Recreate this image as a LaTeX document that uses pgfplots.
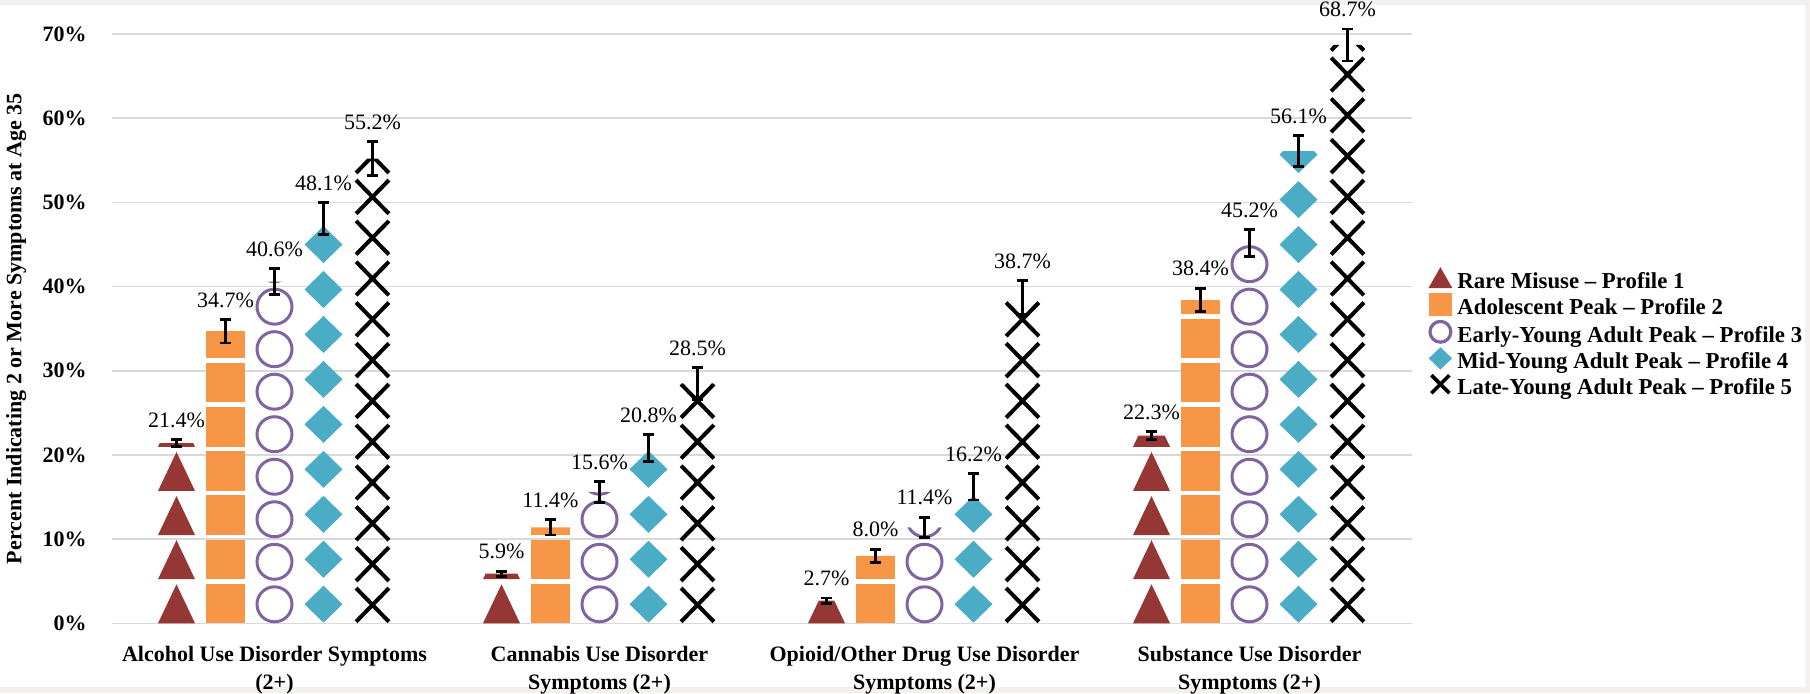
\documentclass[border=0pt]{standalone}
\usepackage{fontspec}
\setmainfont{Liberation Serif}
\usepackage{pgfplots}
\usepackage{pgfplotstable}
\pgfplotsset{compat=1.18}

\definecolor{cTri}{HTML}{953735}
\definecolor{cSq}{HTML}{F79646}
\definecolor{cCir}{HTML}{8064A2}
\definecolor{cDia}{HTML}{4BACC6}
\definecolor{cGrid}{HTML}{D9D9D9}
\definecolor{cFrame}{HTML}{F3F1EF}

% x = category, y = percent, err = half-width of the error bar
\pgfplotstableread{
x y err
0 21.4 0.4
1 5.9 0.3
2 2.7 0.3
3 22.3 0.5
}\rare
\pgfplotstableread{
x y err
0 34.7 1.4
1 11.4 0.9
2 8.0 0.8
3 38.4 1.4
}\adol
\pgfplotstableread{
x y err
0 40.6 1.5
1 15.6 1.25
2 11.4 1.2
3 45.2 1.6
}\early
\pgfplotstableread{
x y err
0 48.1 1.9
1 20.8 1.6
2 16.2 1.55
3 56.1 1.85
}\mid
\pgfplotstableread{
x y err
0 55.2 2.0
1 28.5 1.9
2 38.7 2.0
3 68.7 1.9
}\late

% pictogram icons, origin = bottom centre of one icon cell
\newcommand\iconTri{%
  \pgfpathmoveto{\pgfpoint{-9.25pt}{0pt}}%
  \pgfpathlineto{\pgfpoint{9.25pt}{0pt}}%
  \pgfpathlineto{\pgfpoint{0pt}{19.5pt}}%
  \pgfpathclose
  \pgfsetfillcolor{cTri}\pgfusepath{fill}}
\newcommand\iconSq{%
  \pgfpathrectangle{\pgfpoint{-9.7pt}{0pt}}{\pgfpoint{19.4pt}{19.8pt}}%
  \pgfsetfillcolor{cSq}\pgfusepath{fill}}
\newcommand\iconCir{%
  \pgfpathcircle{\pgfpoint{0pt}{9.5pt}}{8.75pt}%
  \pgfsetlinewidth{1.5pt}\pgfsetstrokecolor{cCir}\pgfusepath{stroke}}
\newcommand\iconDia{%
  \pgfpathmoveto{\pgfpoint{0pt}{0.3pt}}%
  \pgfpathlineto{\pgfpoint{9.5pt}{9.55pt}}%
  \pgfpathlineto{\pgfpoint{0pt}{18.8pt}}%
  \pgfpathlineto{\pgfpoint{-9.5pt}{9.55pt}}%
  \pgfpathclose
  \pgfsetfillcolor{cDia}\pgfusepath{fill}}
\newcommand\iconX{%
  \pgfpathmoveto{\pgfpoint{-8.2pt}{0.8pt}}%
  \pgfpathlineto{\pgfpoint{8.2pt}{17.6pt}}%
  \pgfpathmoveto{\pgfpoint{-8.2pt}{17.6pt}}%
  \pgfpathlineto{\pgfpoint{8.2pt}{0.8pt}}%
  \pgfsetlinewidth{2pt}\pgfsetstrokecolor{black}\pgfusepath{stroke}}

% legend icons (the discarded point keeps a gap before the text)
\newcommand\legGap{\pgfpathmoveto{\pgfpoint{14.5pt}{3pt}}\pgfusepath{discard}}
\newcommand\legTri{%
  \pgfpathmoveto{\pgfpoint{0pt}{-1.5pt}}\pgfpathlineto{\pgfpoint{12pt}{-1.5pt}}%
  \pgfpathlineto{\pgfpoint{6pt}{9pt}}\pgfpathclose
  \pgfsetfillcolor{cTri}\pgfusepath{fill}\legGap}
\newcommand\legSq{%
  \pgfpathrectangle{\pgfpoint{0.2pt}{-2pt}}{\pgfpoint{11.6pt}{11.5pt}}%
  \pgfsetfillcolor{cSq}\pgfusepath{fill}\legGap}
\newcommand\legCir{%
  \pgfpathcircle{\pgfpoint{6pt}{3.8pt}}{5.2pt}%
  \pgfsetlinewidth{1.6pt}\pgfsetstrokecolor{cCir}\pgfusepath{stroke}\legGap}
\newcommand\legDia{%
  \pgfpathmoveto{\pgfpoint{6pt}{-2pt}}\pgfpathlineto{\pgfpoint{11.8pt}{3.6pt}}%
  \pgfpathlineto{\pgfpoint{6pt}{9.2pt}}\pgfpathlineto{\pgfpoint{0.2pt}{3.6pt}}%
  \pgfpathclose
  \pgfsetfillcolor{cDia}\pgfusepath{fill}\legGap}
\newcommand\legX{%
  \pgfpathmoveto{\pgfpoint{1.5pt}{-1pt}}\pgfpathlineto{\pgfpoint{10.5pt}{8pt}}%
  \pgfpathmoveto{\pgfpoint{1.5pt}{8pt}}\pgfpathlineto{\pgfpoint{10.5pt}{-1pt}}%
  \pgfsetlinewidth{1.8pt}\pgfsetstrokecolor{black}\pgfusepath{stroke}\legGap}

\tikzset{
  icons/.style n args={2}{%
    path picture={%
      \foreach \c in {0,1,2,3}{%
        \foreach \r in {0,...,15}{%
          \begin{pgfscope}%
            \pgftransformshift{\pgfpointadd{\pgfpointanchor{path picture bounding box}{south west}}{\pgfpoint{10pt+\c*162.5pt}{\r*#2}}}%
            #1%
          \end{pgfscope}%
        }%
      }%
    }
  }
}

\pgfplotsset{
  errlab/.style={
    draw=none, fill=none,
    /pgfplots/error bars/y dir=both,
    /pgfplots/error bars/y explicit,
    /pgfplots/error bars/error bar style={draw=black, line width=1.4pt},
    /pgfplots/error bars/error mark options={draw=black, rotate=90, mark size=2.6pt, line width=1.4pt},
    point meta=y,
    nodes near coords={\pgfmathprintnumber[fixed,fixed zerofill,precision=1]{\pgfplotspointmeta}\%},
    visualization depends on={\thisrow{err} \as \errv},
    every node near coord/.append style={font=\fontsize{11}{12}\selectfont, text=black, anchor=south, inner sep=0pt, yshift={\errv*4.20929pt+5.8pt}},
  },
  pict/.style={draw=none, fill=none, forget plot},
}

\begin{document}
\begin{tikzpicture}
\fill[cFrame] (0,0) rectangle (905pt,346.5pt);
\fill[white] (0pt,3pt) rectangle (902.5pt,344pt);
\useasboundingbox (0,0) rectangle (905pt,346.5pt);
\begin{axis}[
  at={(56pt,34.85pt)}, anchor=south west,
  scale only axis, width=650pt, height=294.65pt,
  xmin=-0.5, xmax=3.5, ymin=0, ymax=70,
  clip=false,
  ybar, bar width=20pt,
  axis line style={draw=none},
  major tick length=0pt,
  /pgf/number format/assume math mode=true,
  ytick={0,10,...,70},
  yticklabel={\textbf{\pgfmathprintnumber{\tick}\%}},
  yticklabel style={font=\fontsize{11}{13}\selectfont, inner sep=0pt, anchor=east, xshift=-12.5pt},
  ymajorgrids, grid style={draw=cGrid, line width=0.75pt},
  xtick={0,1,2,3},
  xticklabels={{Alcohol Use Disorder Symptoms\\(2+)},{Cannabis Use Disorder\\Symptoms (2+)},{Opioid/Other Drug Use Disorder\\Symptoms (2+)},{Substance Use Disorder\\Symptoms (2+)}},
  xticklabel style={font=\fontsize{11}{14}\selectfont\bfseries, align=center, inner sep=0pt, anchor=north, yshift=-11.3pt},
  ylabel={Percent Indicating 2 or More Symptoms at Age 35},
  ylabel style={font=\fontsize{11}{13}\selectfont\bfseries, at={(axis description cs:-0.0738,0.5)}, anchor=center},
  legend style={at={(axis description cs:1.0123,0.605)}, anchor=north west, draw=none, fill=none, inner sep=0pt, row sep=-1.6pt,
    font=\fontsize{11.4}{13.3}\selectfont\bfseries,
    nodes={inner sep=0pt, text height=7pt, text depth=4pt}},
  legend cell align=left,
]
% pictogram bars (icons clipped to the bar height)
\addplot[pict, bar shift=-49pt, icons={\iconTri}{22.06pt}] table[x=x,y=y]{\rare};
\addplot[pict, bar shift=-24.5pt, icons={\iconSq}{22.1pt}] table[x=x,y=y]{\adol};
\addplot[pict, bar shift=0pt, icons={\iconCir}{21.26pt}] table[x=x,y=y]{\early};
\addplot[pict, bar shift=24.5pt, icons={\iconDia}{22.48pt}] table[x=x,y=y]{\mid};
\addplot[pict, bar shift=49pt, icons={\iconX}{20.4pt}] table[x=x,y=y]{\late};
% error bars, value labels, legend
\addplot[errlab, bar shift=-49pt, legend image code/.code={\legTri}] table[x=x,y=y,y error=err]{\rare};
\addlegendentry{Rare Misuse – Profile 1}
\addplot[errlab, bar shift=-24.5pt, legend image code/.code={\legSq}] table[x=x,y=y,y error=err]{\adol};
\addlegendentry{Adolescent Peak – Profile 2}
\addplot[errlab, bar shift=0pt, legend image code/.code={\legCir}] table[x=x,y=y,y error=err]{\early};
\addlegendentry{Early-Young Adult Peak – Profile 3}
\addplot[errlab, bar shift=24.5pt, legend image code/.code={\legDia}] table[x=x,y=y,y error=err]{\mid};
\addlegendentry{Mid-Young Adult Peak – Profile 4}
\addplot[errlab, bar shift=49pt, legend image code/.code={\legX}] table[x=x,y=y,y error=err]{\late};
\addlegendentry{Late-Young Adult Peak – Profile 5}
\end{axis}
\end{tikzpicture}
\end{document}
